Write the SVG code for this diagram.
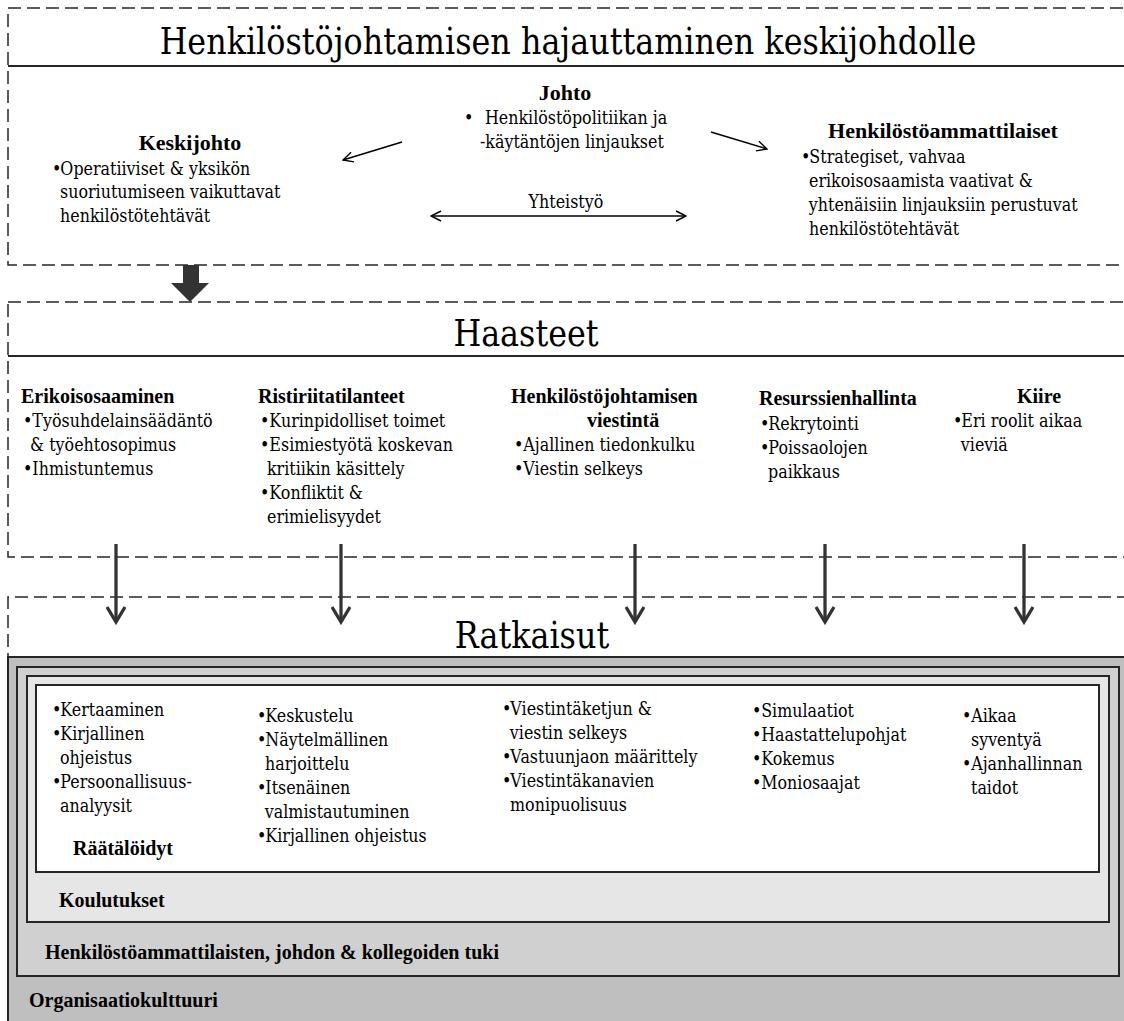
<svg xmlns="http://www.w3.org/2000/svg" width="1124" height="1021" viewBox="0 0 1124 1021">
<defs>
<style>
text{font-family:"DejaVu Serif","Liberation Serif",serif;fill:#000;font-size:19px;transform-box:fill-box;transform-origin:0 50%;transform:scaleX(.837)}
.t{font-size:38px}
.m{text-anchor:middle;transform-origin:50% 50%}
.h{font-family:"Liberation Serif","Times New Roman",serif;font-weight:700;font-size:20px;transform:none}
.h22{font-family:"Liberation Serif","Times New Roman",serif;font-weight:700;font-size:22px;transform:none}
.dash{fill:none;stroke:#262626;stroke-width:1.5;stroke-dasharray:13 6}
.solid{stroke:#262626;stroke-width:2;fill:none}
.thin{stroke:#000;stroke-width:1.4;fill:none}
.thick{stroke:#333;stroke-width:3.3;fill:none}
.lay{stroke:#262626;stroke-width:2}
</style>
<marker id="ah" viewBox="0 0 12 12" refX="11" refY="6" markerWidth="12" markerHeight="12" markerUnits="userSpaceOnUse" orient="auto-start-reverse">
<path d="M1,1 L11,6 L1,11" fill="none" stroke="#000" stroke-width="1.4"/>
</marker>
<marker id="ahb" viewBox="0 0 20 20" refX="17" refY="10" markerWidth="20" markerHeight="20" markerUnits="userSpaceOnUse" orient="auto">
<path d="M2,1 L17,10 L2,19" fill="none" stroke="#333" stroke-width="3.3"/>
</marker>
</defs>
<rect width="1124" height="1021" fill="#fff"/>

<g id="top-box">
<rect class="dash" x="8" y="8" width="1130" height="257"/>
<line class="solid" x1="8" y1="66" x2="1124" y2="66"/>
<text class="t m" x="568" y="54">Henkilöstöjohtamisen hajauttaminen keskijohdolle</text>
</g>
<g id="johto">
<text class="h22 m" x="565" y="100">Johto</text>
<text y="124"><tspan x="464">•</tspan><tspan x="489">Henkilöstöpolitiikan ja</tspan></text>
<text x="480" y="148">-käytäntöjen linjaukset</text>
</g>
<g id="keskijohto">
<text class="h22 m" x="190" y="150">Keskijohto</text>
<text y="175"><tspan x="52">•</tspan><tspan x="62">Operatiiviset &amp; yksikön</tspan></text>
<text x="60" y="198">suoriutumiseen vaikuttavat</text>
<text x="60" y="222">henkilöstötehtävät</text>
</g>
<g id="henkilostoammattilaiset">
<text class="h22 m" x="943" y="138">Henkilöstöammattilaiset</text>
<text y="163"><tspan x="801">•</tspan><tspan x="811">Strategiset, vahvaa</tspan></text>
<text x="809" y="187">erikoisosaamista vaativat &amp;</text>
<text x="809" y="211">yhtenäisiin linjauksiin perustuvat</text>
<text x="809" y="235">henkilöstötehtävät</text>
</g>
<g id="yhteistyo">
<text class="m" x="566" y="208">Yhteistyö</text>
</g>

<g id="haasteet-box">
<rect class="dash" x="8" y="302" width="1130" height="255"/>
<line class="solid" x1="8" y1="356" x2="1124" y2="356"/>
<text class="t m" x="526" y="346">Haasteet</text>
</g>
<g id="erikoisosaaminen">
<text class="h" x="21" y="403">Erikoisosaaminen</text>
<text x="23" y="427">•Työsuhdelainsäädäntö</text>
<text x="30" y="451">&amp; työehtosopimus</text>
<text x="23" y="475">•Ihmistuntemus</text>
</g>
<g id="ristiriitatilanteet">
<text class="h" x="258" y="403">Ristiriitatilanteet</text>
<text x="260" y="427">•Kurinpidolliset toimet</text>
<text x="260" y="451">•Esimiestyötä koskevan</text>
<text x="267" y="475">kritiikin käsittely</text>
<text x="260" y="499">•Konfliktit &amp;</text>
<text x="267" y="523">erimielisyydet</text>
</g>
<g id="viestinta">
<text class="h" x="511" y="403">Henkilöstöjohtamisen</text>
<text class="h" x="587" y="427">viestintä</text>
<text x="514" y="451">•Ajallinen tiedonkulku</text>
<text x="514" y="475">•Viestin selkeys</text>
</g>
<g id="resurssienhallinta">
<text class="h" x="759" y="405">Resurssienhallinta</text>
<text y="430"><tspan x="760">•</tspan><tspan x="770">Rekrytointi</tspan></text>
<text y="454"><tspan x="760">•</tspan><tspan x="770">Poissaolojen</tspan></text>
<text x="768" y="478">paikkaus</text>
</g>
<g id="kiire">
<text class="h m" x="1039" y="403">Kiire</text>
<text y="427"><tspan x="953">•</tspan><tspan x="963">Eri roolit aikaa</tspan></text>
<text x="961" y="451">vieviä</text>
</g>

<g id="ratkaisut-box">
<path class="dash" d="M1130,597 H8 V657"/>
<text class="t m" x="532" y="648">Ratkaisut</text>
</g>
<g id="organisaatiokulttuuri">
<rect class="lay" x="8" y="657" width="1130" height="380" fill="#bfbfbf"/>
<text class="h" x="29" y="1007">Organisaatiokulttuuri</text>
</g>
<g id="tuki">
<rect class="lay" x="17" y="667" width="1102" height="309" fill="#d0d0d0"/>
<text class="h" x="45" y="959">Henkilöstöammattilaisten, johdon &amp; kollegoiden tuki</text>
</g>
<g id="koulutukset">
<rect class="lay" x="27" y="676" width="1082" height="246" fill="#e6e6e6"/>
<text class="h" x="59" y="907">Koulutukset</text>
</g>
<g id="raataloidyt">
<rect class="lay" x="36" y="685" width="1063" height="187" fill="#fff"/>
<text class="h" x="73" y="855">Räätälöidyt</text>
</g>
<g id="ratkaisu-1">
<text y="716"><tspan x="52">•</tspan><tspan x="62">Kertaaminen</tspan></text>
<text y="740"><tspan x="52">•</tspan><tspan x="62">Kirjallinen</tspan></text>
<text x="60" y="764">ohjeistus</text>
<text y="788"><tspan x="52">•</tspan><tspan x="62">Persoonallisuus-</tspan></text>
<text x="60" y="812">analyysit</text>
</g>
<g id="ratkaisu-2">
<text y="722"><tspan x="257">•</tspan><tspan x="267">Keskustelu</tspan></text>
<text y="746"><tspan x="257">•</tspan><tspan x="267">Näytelmällinen</tspan></text>
<text x="265" y="770">harjoittelu</text>
<text y="794"><tspan x="257">•</tspan><tspan x="267">Itsenäinen</tspan></text>
<text x="265" y="818">valmistautuminen</text>
<text y="842"><tspan x="257">•</tspan><tspan x="267">Kirjallinen ohjeistus</tspan></text>
</g>
<g id="ratkaisu-3">
<text y="715"><tspan x="502">•</tspan><tspan x="512">Viestintäketjun &amp;</tspan></text>
<text x="510" y="739">viestin selkeys</text>
<text y="763"><tspan x="502">•</tspan><tspan x="512">Vastuunjaon määrittely</tspan></text>
<text y="787"><tspan x="502">•</tspan><tspan x="512">Viestintäkanavien</tspan></text>
<text x="510" y="811">monipuolisuus</text>
</g>
<g id="ratkaisu-4">
<text y="717"><tspan x="752">•</tspan><tspan x="763">Simulaatiot</tspan></text>
<text y="741"><tspan x="752">•</tspan><tspan x="763">Haastattelupohjat</tspan></text>
<text y="765"><tspan x="752">•</tspan><tspan x="763">Kokemus</tspan></text>
<text y="789"><tspan x="752">•</tspan><tspan x="763">Moniosaajat</tspan></text>
</g>
<g id="ratkaisu-5">
<text y="722"><tspan x="962">•</tspan><tspan x="973">Aikaa</tspan></text>
<text x="971" y="746">syventyä</text>
<text y="770"><tspan x="962">•</tspan><tspan x="973">Ajanhallinnan</tspan></text>
<text x="971" y="794">taidot</text>
</g>

<g id="connectors">
<line class="thin" x1="402" y1="142" x2="343" y2="160" marker-end="url(#ah)"/>
<line class="thin" x1="711" y1="132" x2="767" y2="149" marker-end="url(#ah)"/>
<line class="thin" x1="431" y1="216" x2="686" y2="216" marker-start="url(#ah)" marker-end="url(#ah)"/>
<polygon points="183,265 199,265 199,283 209,283 190,302 171,283 183,283" fill="#333"/>
<line class="thick" x1="116" y1="544" x2="116" y2="622" marker-end="url(#ahb)"/>
<line class="thick" x1="341" y1="544" x2="341" y2="622" marker-end="url(#ahb)"/>
<line class="thick" x1="635" y1="544" x2="635" y2="622" marker-end="url(#ahb)"/>
<line class="thick" x1="825" y1="544" x2="825" y2="622" marker-end="url(#ahb)"/>
<line class="thick" x1="1024" y1="544" x2="1024" y2="622" marker-end="url(#ahb)"/>
</g>
</svg>
